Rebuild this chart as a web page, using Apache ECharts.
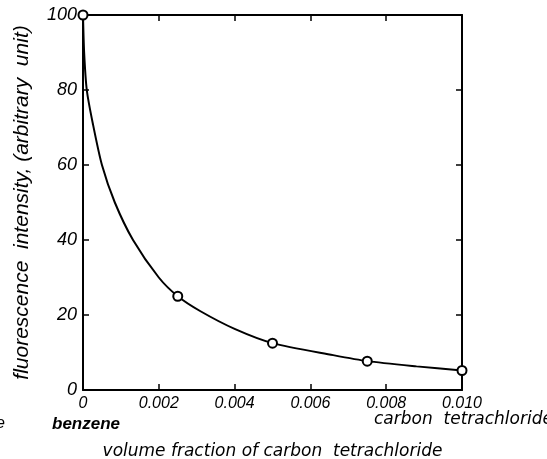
<!DOCTYPE html>
<html><head><meta charset="utf-8">
<script src="https://cdn.jsdelivr.net/npm/echarts@6/dist/echarts.min.js"></script>
<style>html,body{margin:0;padding:0;background:#fff}#c{width:547px;height:459px}</style>
</head><body><div id="c"></div>
<script>
// measured points (volume fraction, intensity)
const pointX = [0, 0.0025, 0.005, 0.0075, 0.010];
const pointY = [100, 25, 12.5, 7.7, 5.2];
// hand-drawn curve
const curveX = [0, 0.00003, 0.0001, 0.00026, 0.0005, 0.00084, 0.00132, 0.002, 0.0025, 0.0031, 0.004, 0.005, 0.0066, 0.0075, 0.0088, 0.010];
const curveY = [100, 90, 80, 71, 60, 50, 40, 30, 25, 21, 16.3, 12.5, 9.3, 7.7, 6.3, 5.2];
const xTicks = [0, 0.002, 0.004, 0.006, 0.008, 0.010];
const xTickLabels = ['0', '0.002', '0.004', '0.006', '0.008', '0.010'];
const yTicks = [0, 20, 40, 60, 80, 100];

const FONT = 'Liberation Sans';
const chart = echarts.init(document.getElementById('c'));
const axisLine = {show: true, onZero: false, lineStyle: {color: '#000', width: 2}};
const tick = {show: true, inside: true, length: 6, lineStyle: {color: '#000', width: 1.5}};
chart.setOption({
  animation: false,
  backgroundColor: '#fff',
  grid: {left: 83, right: 85, top: 15, bottom: 69, containLabel: false, outerBoundsMode: 'none'},
  xAxis: [{
    type: 'value', min: 0, max: 0.01, interval: 0.002, position: 'bottom',
    axisLine, axisTick: tick, splitLine: {show: false},
    axisLabel: {color: '#000', fontSize: 16, fontStyle: 'italic', fontFamily: FONT, margin: 6,
      formatter: v => { const i = xTicks.findIndex(t => Math.abs(t - v) < 1e-9); return i >= 0 ? xTickLabels[i] : ''; }},
    name: 'volume fraction of carbon  tetrachloride', nameLocation: 'middle', nameGap: 53,
    nameTextStyle: {color: '#000', fontSize: 17, fontStyle: 'italic', fontFamily: 'DejaVu Sans'}
  }, {
    type: 'value', min: 0, max: 0.01, interval: 0.002, position: 'top',
    axisLine, axisTick: tick, axisLabel: {show: false}, splitLine: {show: false}
  }],
  yAxis: [{
    type: 'value', min: 0, max: 100, interval: 20, position: 'left',
    axisLine, axisTick: tick, splitLine: {show: false},
    axisLabel: {color: '#000', fontSize: 18, fontStyle: 'italic', fontFamily: FONT, margin: 6,
      formatter: v => yTicks.includes(v) ? String(v) : ''},
    name: 'fluorescence  intensity, (arbitrary  unit)', nameLocation: 'middle', nameGap: 50, nameRotate: 90,
    nameTextStyle: {color: '#000', fontSize: 21, fontStyle: 'italic', fontFamily: FONT}
  }, {
    type: 'value', min: 0, max: 100, interval: 20, position: 'right',
    axisLine, axisTick: tick, axisLabel: {show: false}, splitLine: {show: false}
  }],
  series: [{
    type: 'line', data: curveX.map((x, i) => [x, curveY[i]]), smooth: 0.25,
    showSymbol: false, lineStyle: {color: '#000', width: 2}, clip: false
  }, {
    type: 'scatter', data: pointX.map((x, i) => [x, pointY[i]]), symbol: 'circle', symbolSize: 9,
    itemStyle: {color: '#fff', opacity: 1, borderColor: '#000', borderWidth: 2}, clip: false, z: 5
  }],
  graphic: [
    {type: 'text', left: 52, top: 416, style: {text: 'benzene', fill: '#000', font: 'italic bold 17px ' + FONT}},
    {type: 'text', left: 374, top: 411, style: {text: 'carbon  tetrachloride', fill: '#000', font: 'italic 17px DejaVu Sans'}},
    {type: 'text', left: -4, top: 416, style: {text: 'e', fill: '#000', font: 'italic 16px ' + FONT}}
  ]
});
</script></body></html>
